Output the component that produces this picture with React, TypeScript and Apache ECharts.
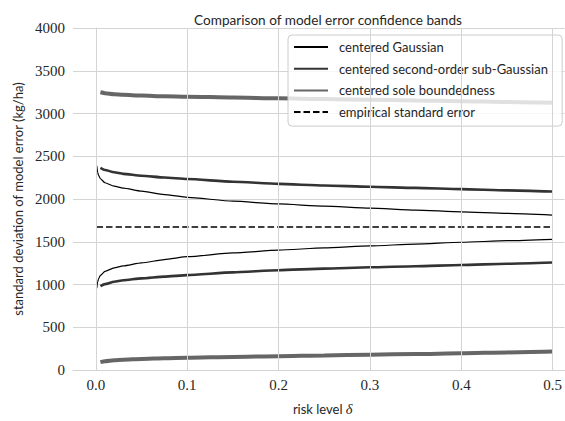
import React, { useEffect, useRef } from "react";
import * as echarts from "echarts";

// Risk levels at which each band was evaluated
const DELTA_GAUSS = [0.001, 0.002, 0.003, 0.005, 0.01, 0.02, 0.03, 0.05, 0.075, 0.1, 0.15, 0.2, 0.25, 0.3, 0.35, 0.4, 0.45, 0.5];
const DELTA_BOUND = [0.005, 0.01, 0.02, 0.03, 0.05, 0.075, 0.1, 0.15, 0.2, 0.25, 0.3, 0.35, 0.4, 0.45, 0.5];

// Centered Gaussian band (kg/ha)
const GAUSS_UPPER = [2387, 2312, 2277, 2237, 2190, 2150, 2127, 2092, 2052, 2019, 1975, 1942, 1916, 1893, 1871, 1850, 1832, 1812];
const GAUSS_LOWER = [957, 1032, 1067, 1107, 1154, 1194, 1217, 1252, 1292, 1325, 1369, 1402, 1428, 1451, 1473, 1494, 1512, 1528];

// Centered second-order sub-Gaussian band (kg/ha)
const SUB_UPPER = [2364, 2340, 2312, 2294, 2272, 2252, 2234, 2202, 2177, 2158, 2143, 2130, 2116, 2101, 2087];
const SUB_LOWER = [980, 1004, 1032, 1050, 1072, 1092, 1110, 1142, 1167, 1186, 1201, 1214, 1228, 1243, 1257];

// Centered sole boundedness band (kg/ha)
const SOLE_UPPER = [3248, 3238, 3226, 3219, 3210, 3202, 3197, 3187, 3178, 3169, 3161, 3153, 3144, 3134, 3125];
const SOLE_LOWER = [92, 102, 114, 121, 130, 138, 143, 153, 162, 171, 179, 187, 196, 206, 215];

// Empirical standard error (kg/ha)
const EMPIRICAL_DELTA = [0.001, 0.5];
const EMPIRICAL_VALUE = [1672, 1672];

const X_TICKS = [0, 0.1, 0.2, 0.3, 0.4, 0.5];

const TITLE = "Comparison of model error confidence bands";
const NAME_GAUSS = "centered Gaussian";
const NAME_SUB = "centered second-order sub-Gaussian";
const NAME_SOLE = "centered sole boundedness";
const NAME_EMP = "empirical standard error";

const SANS = "Lato, 'Open Sans', sans-serif";
const SERIF = "'Liberation Serif', 'DejaVu Serif', serif";
const TEXT = "#262626";
const GRID = "#d4d4d4";
const FS = 13;
const TITLE_FS = 13.6;

const zip = (xs: number[], ys: number[]) => xs.map((x, i) => [x, ys[i]]);

function curve(name: string, xs: number[], ys: number[], color: string, width: number, type: any = "solid", z = 3) {
  return {
    type: "line",
    name,
    data: zip(xs, ys),
    showSymbol: false,
    symbol: "none",
    smooth: 0.2,
    smoothMonotone: "x",
    z,
    lineStyle: { color, width, type, cap: "butt" },
    itemStyle: { color },
    emphasis: { disabled: true },
  };
}

export default function App() {
  const ref = useRef<HTMLDivElement>(null);

  useEffect(() => {
    if (!ref.current) return;
    const chart = echarts.init(ref.current, undefined, { renderer: "svg" });
    chart.setOption({
      animation: false,
      backgroundColor: "#ffffff",
      title: {
        text: TITLE,
        left: 323,
        top: 8,
        textAlign: "center",
        textStyle: { fontFamily: SANS, fontSize: TITLE_FS, fontWeight: "normal", color: TEXT },
      },
      grid: { left: 73, right: 0, top: 28, bottom: 41, containLabel: false },
      xAxis: {
        type: "value",
        min: -0.025,
        max: 0.513,
        axisLine: { show: true, lineStyle: { color: GRID, width: 1 } },
        axisTick: { show: false },
        splitLine: { show: false },
        axisLabel: {
          customValues: X_TICKS,
          formatter: (v: number) => v.toFixed(1),
          fontFamily: SERIF,
          fontSize: 15,
          color: TEXT,
          margin: 7,
        },
        name: "{a|risk level }{b|δ}",
        nameLocation: "middle",
        nameGap: 31,
        nameTextStyle: {
          padding: [0, 0, 0, 8],
          rich: {
            a: { fontFamily: SANS, fontSize: FS, color: TEXT },
            b: { fontFamily: SERIF, fontSize: 14.5, fontStyle: "italic", color: TEXT },
          },
        },
      },
      yAxis: {
        type: "value",
        min: 0,
        max: 4000,
        interval: 500,
        axisLine: { show: true, lineStyle: { color: GRID, width: 1 } },
        axisTick: { show: false },
        splitLine: { show: true, lineStyle: { color: GRID, width: 1 } },
        axisLabel: {
          formatter: (v: number) => String(v),
          fontFamily: SERIF,
          fontSize: 15,
          color: TEXT,
          margin: 8,
        },
        name: "standard deviation of model error (kg/ha)",
        nameLocation: "middle",
        nameGap: 47,
        nameTextStyle: { fontFamily: SANS, fontSize: FS, color: TEXT },
      },
      legend: {
        left: 288,
        top: 35,
        orient: "vertical",
        data: [NAME_GAUSS, NAME_SUB, NAME_SOLE, NAME_EMP],
        itemWidth: 34,
        itemHeight: 12,
        itemGap: 6.7,
        padding: [4.5, 14, 6.5, 5],
        backgroundColor: "rgba(255,255,255,0.8)",
        borderColor: "#cccccc",
        borderWidth: 1,
        borderRadius: 4,
        selectedMode: false,
        itemStyle: { opacity: 0 },
        textStyle: { fontFamily: SANS, fontSize: FS, color: TEXT, lineHeight: 15, padding: [0, 0, 0, 6] },
      },
      series: [
        {
          type: "line",
          name: "vertical grid",
          data: [],
          z: 1,
          silent: true,
          markLine: {
            silent: true,
            symbol: "none",
            label: { show: false },
            lineStyle: { color: GRID, width: 1, type: "solid" },
            data: X_TICKS.map((v) => ({ xAxis: v })),
          },
        },
        curve(NAME_GAUSS, DELTA_GAUSS, GAUSS_UPPER, "#000000", 1.2),
        curve(NAME_GAUSS, DELTA_GAUSS, GAUSS_LOWER, "#000000", 1.2),
        curve(NAME_SUB, DELTA_BOUND, SUB_UPPER, "#333333", 2.6),
        curve(NAME_SUB, DELTA_BOUND, SUB_LOWER, "#333333", 2.6),
        curve(NAME_SOLE, DELTA_BOUND, SOLE_UPPER, "#666666", 4),
        curve(NAME_SOLE, DELTA_BOUND, SOLE_LOWER, "#666666", 4),
        curve(NAME_EMP, EMPIRICAL_DELTA, EMPIRICAL_VALUE, "#000000", 1.6, [6.5, 3]),
      ],
    });
    return () => chart.dispose();
  }, []);

  return <div ref={ref} style={{ width: 565, height: 421, position: "fixed", left: 0, top: 0 }} />;
}
